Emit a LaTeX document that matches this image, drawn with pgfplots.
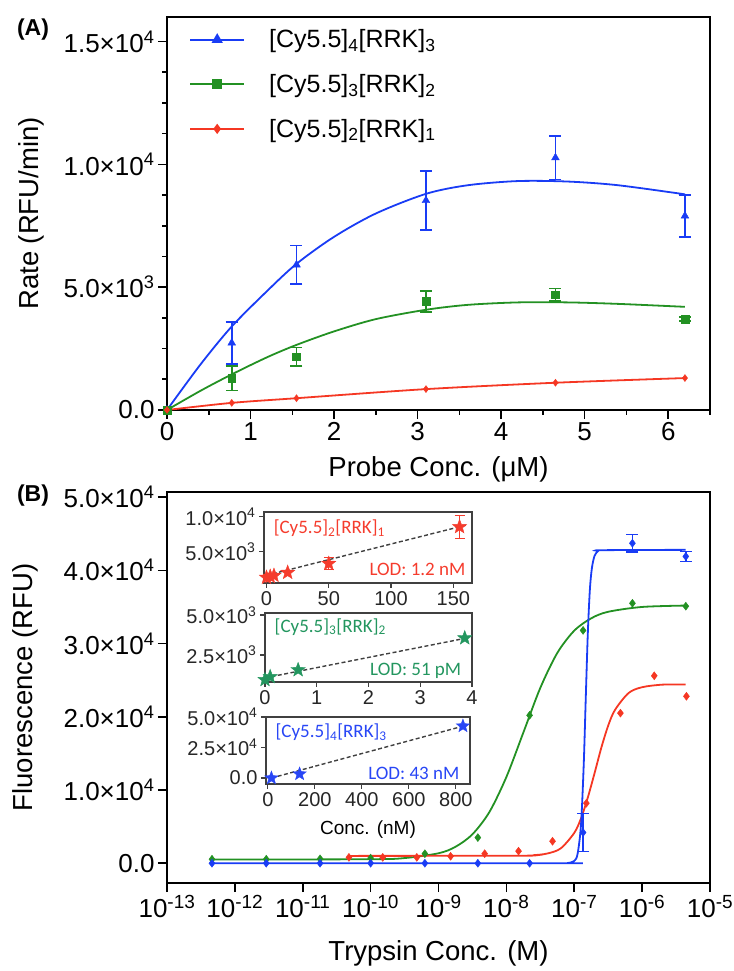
\documentclass[border=0pt]{standalone}
\usepackage{fontspec}
\setmainfont{Liberation Sans}
\newfontfamily\calib{Carlito}
\usepackage{pgfplots}
\pgfplotsset{compat=1.18}

\definecolor{cblue}{RGB}{25,60,245}
\definecolor{cgreen}{RGB}{35,145,35}
\definecolor{cred}{RGB}{245,55,35}
\definecolor{tgreen}{RGB}{35,150,95}
\definecolor{tblue}{RGB}{40,70,245}
\definecolor{tred}{RGB}{245,60,45}

% filled five-pointed star
\pgfdeclareplotmark{fstar}{%
  \pgfpathmoveto{\pgfqpointpolar{90}{\pgfplotmarksize}}%
  \pgfpathlineto{\pgfqpointpolar{126}{0.42\pgfplotmarksize}}%
  \pgfpathlineto{\pgfqpointpolar{162}{\pgfplotmarksize}}%
  \pgfpathlineto{\pgfqpointpolar{198}{0.42\pgfplotmarksize}}%
  \pgfpathlineto{\pgfqpointpolar{234}{\pgfplotmarksize}}%
  \pgfpathlineto{\pgfqpointpolar{270}{0.42\pgfplotmarksize}}%
  \pgfpathlineto{\pgfqpointpolar{306}{\pgfplotmarksize}}%
  \pgfpathlineto{\pgfqpointpolar{342}{0.42\pgfplotmarksize}}%
  \pgfpathlineto{\pgfqpointpolar{18}{\pgfplotmarksize}}%
  \pgfpathlineto{\pgfqpointpolar{54}{0.42\pgfplotmarksize}}%
  \pgfpathclose\pgfusepathqfillstroke}

\newcommand{\fs}[2]{\fontsize{#1}{#2}\selectfont}
\newcommand{\ex}[1]{\textsuperscript{\fs{19}{20}#1}}

\pgfplotsset{
  big/.style={scale only axis, clip=false, scaled y ticks=false, scaled x ticks=false,
    axis line style={line width=2pt},
    tick style={black, line width=1.6pt},
    tick align=outside, major tick length=9pt, minor tick length=5pt,
    xtick pos=left, ytick pos=left,
    tick label style={font=\fs{26}{30}}},
  inset/.style={scale only axis, clip=false, scaled y ticks=false, scaled x ticks=false,
    axis line style={line width=1.2pt, black!75},
    tick style={black!75, line width=1.2pt},
    tick align=outside, major tick length=5pt,
    xtick pos=left, ytick pos=left,
    tick label style={font=\fs{20}{23}, text=black!85}},
  fit/.style={line width=1.8pt, smooth, no markers, forget plot},
  ebar/.style={forget plot, only marks,
    error bars/.cd, y dir=both, y explicit,
    error bar style={line width=1.6pt},
    error mark options={line width=1.6pt, mark size=6pt, rotate=90}},
  lod/.style={black!75, line width=1.4pt, dash pattern=on 4pt off 2.5pt},
}

\begin{document}
\begin{tikzpicture}[x=1pt,y=1pt]
\path[use as bounding box] (0,0) rectangle (733,971);

% ---------------- panel A ----------------
\begin{axis}[big, at={(167pt,561pt)}, anchor=south west,
  width=543pt, height=393pt,
  xmin=0, xmax=6.5, ymin=0, ymax=16000,
  xtick={0,1,2,3,4,5,6}, xticklabels={0,1,2,3,4,5,6},
  minor xtick={0.5,1.5,2.5,3.5,4.5,5.5,6.5},
  ytick={0,5000,10000,15000},
  yticklabels={0.0,5.0×10\textsuperscript{3},1.0×10\textsuperscript{4},1.5×10\textsuperscript{4}},
  minor ytick={1250,2500,3750,6250,7500,8750,11250,12500,13750},
  xlabel={Probe Conc. (μM)}, ylabel={Rate (RFU/min)},
  every axis y label/.style={at={(axis description cs:-0.249,0.5)}, rotate=90, anchor=center, font=\fs{27.5}{32}},
  every axis x label/.style={at={(axis description cs:0.5,-0.15)}, anchor=center, font=\fs{27.5}{32}},
  legend style={draw=none, fill=none, at={(axis description cs:0.035,0.978)},
    anchor=north west, font=\fs{25}{30}, row sep=21pt,
    /tikz/every odd column/.append style={column sep=22pt}},
  legend cell align=left,
  legend image code/.code={\draw[mark repeat=2, mark phase=2] plot coordinates {(0pt,0pt) (27pt,0pt) (54pt,0pt)};},
]
\addlegendimage{cblue, line width=2pt, mark=triangle*, mark size=4.5pt}
\addlegendentry{[Cy5.5]\textsubscript{4}[RRK]\textsubscript{3}}
\addlegendimage{cgreen, line width=2pt, mark=square*, mark size=3.8pt}
\addlegendentry{[Cy5.5]\textsubscript{3}[RRK]\textsubscript{2}}
\addlegendimage{cred, line width=2pt, mark=diamond*, mark size=3.5pt}
\addlegendentry{[Cy5.5]\textsubscript{2}[RRK]\textsubscript{1}}

% blue
\addplot[cblue, fit] coordinates {
  (0,0) (0.4,1850) (0.775,3400) (1.2,4850) (1.55,5950) (2,7050) (2.5,8000)
  (3.1,8800) (3.6,9150) (4.2,9320) (4.8,9300) (5.4,9150) (6.2,8780)};
\addplot[cblue, mark=triangle*, mark size=4.5pt, ebar] coordinates {
  (0.775,2730) +- (0,850)
  (1.55,5910) +- (0,780)
  (3.1,8530) +- (0,1200)
  (4.65,10270) +- (0,880)
  (6.2,7900) +- (0,850)};
\addplot[cblue, only marks, mark=triangle*, mark size=4.5pt, forget plot] coordinates {(0,0)};

% green
\addplot[cgreen, fit] coordinates {
  (0,0) (0.4,780) (0.775,1450) (1.2,2150) (1.55,2650) (2,3200) (2.5,3700)
  (3.1,4080) (3.6,4280) (4.2,4380) (4.8,4380) (5.4,4320) (6.2,4200)};
\addplot[cgreen, mark=square*, mark size=3.8pt, ebar] coordinates {
  (0.775,1300) +- (0,500)
  (1.55,2170) +- (0,380)
  (3.1,4420) +- (0,420)
  (4.65,4690) +- (0,250)
  (6.2,3700) +- (0,80)};
\addplot[cgreen, only marks, mark=square*, mark size=3.8pt, forget plot] coordinates {(0,0)};

% red
\addplot[cred, fit] coordinates {
  (0,0) (0.775,290) (1.55,480) (3.1,850) (4.65,1110) (6.2,1300)};
\addplot[cred, only marks, mark=diamond*, mark size=3.5pt, forget plot] coordinates {
  (0,0) (0.775,290) (1.55,480) (3.1,850) (4.65,1110) (6.2,1300)};
\end{axis}

% ---------------- panel B ----------------
\begin{axis}[big, at={(167pt,88pt)}, anchor=south west,
  width=543pt, height=391pt,
  xmode=log, xmin=1e-13, xmax=1e-5, ymin=-2700, ymax=50700,
  xtick={1e-13,1e-12,1e-11,1e-10,1e-9,1e-8,1e-7,1e-6,1e-5},
  xticklabels={10\ex{-13},10\ex{-12},10\ex{-11},10\ex{-10},10\ex{-9},10\ex{-8},10\ex{-7},10\ex{-6},10\ex{-5}},
  xminorticks=false,
  ytick={0,10000,20000,30000,40000,50000},
  yticklabels={0.0,1.0×10\textsuperscript{4},2.0×10\textsuperscript{4},3.0×10\textsuperscript{4},4.0×10\textsuperscript{4},5.0×10\textsuperscript{4}},
  xlabel={Trypsin Conc. (M)}, ylabel={Fluorescence (RFU)},
  every axis y label/.style={at={(axis description cs:-0.26,0.5)}, rotate=90, anchor=center, font=\fs{27.5}{32}},
  every axis x label/.style={at={(axis description cs:0.5,-0.18)}, anchor=center, font=\fs{27.5}{32}},
]
% green
\addplot[cgreen, fit] coordinates {
  (4.57e-13,500) (1e-10,547) (3.16e-10,703) (1e-9,1359) (1.78e-9,2244)
  (3.16e-9,3950) (5.62e-9,6990) (1e-8,11770) (1.78e-8,17850) (3.16e-8,23940)
  (5.62e-8,28710) (1e-7,31760) (1.78e-7,33450) (3.16e-7,34340) (1e-6,35000)
  (4.37e-6,35190)};
\addplot[cgreen, only marks, mark=diamond*, mark size=4pt, forget plot] coordinates {
  (4.6e-13,550) (2.9e-12,550) (1.8e-11,600) (1.0e-10,700) (6.3e-10,1300)
  (3.8e-9,3500) (2.2e-8,20200) (1.35e-7,31800) (7.2e-7,35500) (4.4e-6,35100)};
% red
\addplot[cred, fit] coordinates {
  (4.79e-11,1000) (1.58e-8,1030) (2.51e-8,1100) (3.98e-8,1320) (6.31e-8,2020)
  (1e-7,4140) (1.26e-7,6140) (1.58e-7,8930) (2e-7,12360) (2.51e-7,15800)
  (3.16e-7,18780) (3.98e-7,20930) (6.31e-7,23240) (1e-6,24040) (2e-6,24390)
  (4.37e-6,24400)};
\addplot[cred, only marks, mark=diamond*, mark size=4pt, forget plot] coordinates {
  (4.79e-11,800) (1.51e-10,800) (4.79e-10,800) (1.51e-9,950) (4.79e-9,1300)
  (1.51e-8,1650) (4.79e-8,3000) (1.51e-7,8200) (4.79e-7,20500) (1.51e-6,25600)
  (4.5e-6,22800)};
% blue
\addplot[cblue, fit] coordinates {
  (4.57e-13,0) (6e-8,0) (7.94e-8,16) (1e-7,308) (1.122e-7,1310) (1.259e-7,5300)
  (1.38e-7,13500) (1.479e-7,22600) (1.585e-7,31400) (1.698e-7,37300)
  (1.82e-7,40300) (1.995e-7,42000) (2.239e-7,42620) (2.512e-7,42750)
  (4.37e-6,42800)};
\addplot[cblue, only marks, mark=diamond*, mark size=4pt, forget plot] coordinates {
  (4.6e-13,0) (2.9e-12,0) (1.8e-11,0) (1.0e-10,0) (6.3e-10,0) (3.8e-9,0) (2.2e-8,0)};
\addplot[cblue, mark=diamond*, mark size=4pt, ebar] coordinates {
  (1.35e-7,4200) +- (0,2600)
  (7.2e-7,43700) +- (0,1200)
  (4.4e-6,41900) +- (0,700)};
\end{axis}

% ---------------- inset 1 (red) ----------------
\begin{axis}[inset, at={(264pt,388pt)}, anchor=south west,
  width=208pt, height=71pt,
  xmin=-2, xmax=165, ymin=500, ymax=10700,
  xtick={0,50,100,150}, xticklabels={0,50,100,150},
  ytick={5000,10000}, yticklabels={5.0×10\textsuperscript{3},1.0×10\textsuperscript{4}},
]
\addplot[lod] coordinates {(0,1600) (160,8800)};
\addplot[tred, only marks, mark=fstar, mark size=7.5pt] coordinates {
  (0,1290) (3,1430) (6,1570) (17,2000)};
\addplot[tred, mark=fstar, mark size=7.5pt, ebar,
  error mark options={line width=1.2pt, mark size=5pt, rotate=90}, error bar style={line width=1.2pt}] coordinates {
  (50,3290) +- (0,850)
  (155,8570) +- (0,1650)};
\node[anchor=west, text=tred, font=\calib\fs{19}{23}] at (rel axis cs:0.03,0.77)
  {[Cy5.5]\textsubscript{2}[RRK]\textsubscript{1}};
\node[anchor=east, text=tred, font=\calib\fs{19}{23}] at (rel axis cs:0.985,0.19)
  {LOD: 1.2 nM};
\end{axis}

% ---------------- inset 2 (green) ----------------
\begin{axis}[inset, at={(265pt,289pt)}, anchor=south west,
  width=207pt, height=69pt,
  xmin=0, xmax=4, ymin=800, ymax=5130,
  xtick={0,1,2,3,4}, xticklabels={0,1,2,3,4},
  ytick={2500,5000}, yticklabels={2.5×10\textsuperscript{3},5.0×10\textsuperscript{3}},
]
\addplot[lod] coordinates {(0,1060) (3.9,3560)};
\addplot[tgreen, only marks, mark=fstar, mark size=7.5pt] coordinates {
  (0,940) (0.1,1125) (0.64,1560) (3.86,3560)};
\node[anchor=west, text=tgreen, font=\calib\fs{19}{23}] at (rel axis cs:0.03,0.8)
  {[Cy5.5]\textsubscript{3}[RRK]\textsubscript{2}};
\node[anchor=east, text=tgreen, font=\calib\fs{19}{23}] at (rel axis cs:0.965,0.16)
  {LOD: 51 pM};
\end{axis}

% ---------------- inset 3 (blue) ----------------
\begin{axis}[inset, at={(266pt,187pt)}, anchor=south west,
  width=204pt, height=67pt,
  xmin=-8, xmax=860, ymin=-4900, ymax=50000,
  xtick={0,200,400,600,800}, xticklabels={0,200,400,600,800},
  ytick={0,25000,50000}, yticklabels={0.0,2.5×10\textsuperscript{4},5.0×10\textsuperscript{4}},
  xlabel={Conc. (nM)},
  every axis x label/.style={at={(axis description cs:0.5,-0.68)}, anchor=center, font=\fs{19}{22}},
]
\addplot[lod] coordinates {(15,0) (840,43000)};
\addplot[tblue, only marks, mark=fstar, mark size=7pt] coordinates {
  (15,0) (135,3300) (830,42600)};
\node[anchor=west, text=tblue, font=\calib\fs{19}{23}] at (rel axis cs:0.03,0.77)
  {[Cy5.5]\textsubscript{4}[RRK]\textsubscript{3}};
\node[anchor=east, text=tblue, font=\calib\fs{19}{23}] at (rel axis cs:0.965,0.16)
  {LOD: 43 nM};
\end{axis}

\node[font=\bfseries\fs{23}{26}] at (33pt,941pt) {(A)};
\node[font=\bfseries\fs{23}{26}] at (33pt,475pt) {(B)};
\end{tikzpicture}
\end{document}
